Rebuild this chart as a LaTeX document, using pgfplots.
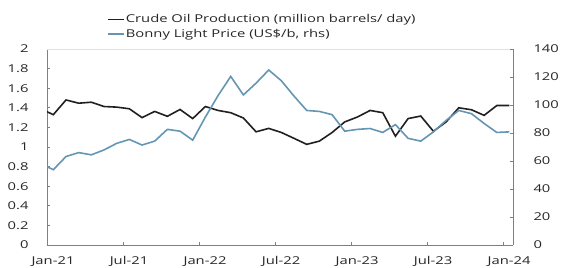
\documentclass[border=0pt]{standalone}
\usepackage{fontspec}
\setmainfont{Open Sans}[FakeStretch=1.37]
\usepackage{pgfplots}
\usepackage{pgfplotstable}
\pgfplotsset{compat=1.18}
\definecolor{oilblack}{RGB}{35,31,32}
\definecolor{bonny}{RGB}{100,150,180}
\definecolor{axgray}{RGB}{128,128,128}
\definecolor{topgray}{RGB}{225,225,225}

% t = months since Jan-21 (points plotted mid-month)
\pgfplotstableread{
t prod
-0.5 1.39
0.5 1.33
1.5 1.48
2.5 1.447
3.5 1.457
4.5 1.413
5.5 1.407
6.5 1.39
7.5 1.30
8.5 1.363
9.5 1.313
10.5 1.383
11.5 1.29
12.5 1.413
13.5 1.373
14.5 1.35
15.5 1.296
16.5 1.155
17.5 1.19
18.5 1.148
19.5 1.088
20.5 1.027
21.5 1.06
22.5 1.148
23.5 1.256
24.5 1.306
25.5 1.373
26.5 1.35
27.5 1.11
28.5 1.29
29.5 1.316
30.5 1.16
31.5 1.256
32.5 1.40
33.5 1.38
34.5 1.323
35.5 1.423
36.5 1.423
}\prodtable

\pgfplotstableread{
t price
-0.5 58
0.5 53.8
1.5 63.2
2.5 66
3.5 64.4
4.5 67.9
5.5 72.6
6.5 75.4
7.5 71.4
8.5 74.2
9.5 82.6
10.5 81.3
11.5 74.9
12.5 91.4
13.5 106.7
14.5 120.4
15.5 107.2
16.5 115.6
17.5 125
18.5 117.3
19.5 106.3
20.5 96.1
21.5 95.4
22.5 93.1
23.5 81.3
24.5 82.6
25.5 83.2
26.5 80.4
27.5 86
28.5 76.2
29.5 74.2
30.5 80.8
31.5 89
32.5 96.1
33.5 93.8
34.5 86.8
35.5 80.4
36.5 80.8
}\pricetable

\begin{document}
\begin{tikzpicture}
\useasboundingbox (0,0) rectangle (561bp,268bp);
\begin{axis}[
  at={(47bp,23bp)}, anchor=south west,
  width=466bp, height=196bp, scale only axis,
  xmin=0, xmax=36.78, ymin=0, ymax=2,
  axis x line*=bottom, axis y line*=left,
  xtick={0,6,12,18,24,30,36},
  xticklabels={Jan-21,Jul-21,Jan-22,Jul-22,Jan-23,Jul-23,Jan-24},
  ytick={0,0.2,0.4,0.6,0.8,1,1.2,1.4,1.6,1.8,2},
  tick align=inside,
  major tick length=3bp,
  axis line style={axgray, line width=0.8bp},
  every tick/.style={axgray, line width=0.6bp},
  /pgf/number format/assume math mode=true,
  tick label style={font=\fontsize{10.8bp}{13bp}\selectfont, text=black!85},
  yticklabel style={xshift=-15bp},
  xticklabel style={yshift=-8bp, xshift=6bp},
  legend cell align=left,
  legend style={at={(0.1288,1.181)}, anchor=north west, draw=none, fill=none,
    inner sep=0pt, row sep=2.5bp,
    font=\fontsize{10.8bp}{13bp}\selectfont,
    nodes={inner sep=1bp, text=black!85}},
  legend image code/.code={\draw[#1] (0bp,0bp) -- (16bp,0bp);},
]
\draw[topgray, line width=0.8bp] (rel axis cs:0,1) -- (rel axis cs:1,1);
\addplot[oilblack, line width=1.6bp] table[x=t,y=prod]{\prodtable};
\addlegendentry{Crude Oil Production (million barrels/ day)}
\addlegendimage{bonny, line width=1.6bp}
\addlegendentry{Bonny Light Price (US\$/b, rhs)}
\end{axis}
\begin{axis}[
  at={(47bp,23bp)}, anchor=south west,
  width=466bp, height=196bp, scale only axis,
  xmin=0, xmax=36.78, ymin=0, ymax=140,
  axis x line=none, axis y line*=right,
  ytick={0,20,40,60,80,100,120,140},
  tick align=inside,
  major tick length=3bp,
  axis line style={axgray, line width=0.8bp},
  every tick/.style={axgray, line width=0.6bp},
  /pgf/number format/assume math mode=true,
  tick label style={font=\fontsize{10.8bp}{13bp}\selectfont, text=black!85},
  yticklabel style={xshift=17bp},
]
\addplot[bonny, line width=1.6bp] table[x=t,y=price]{\pricetable};
\end{axis}
\end{tikzpicture}
\end{document}
